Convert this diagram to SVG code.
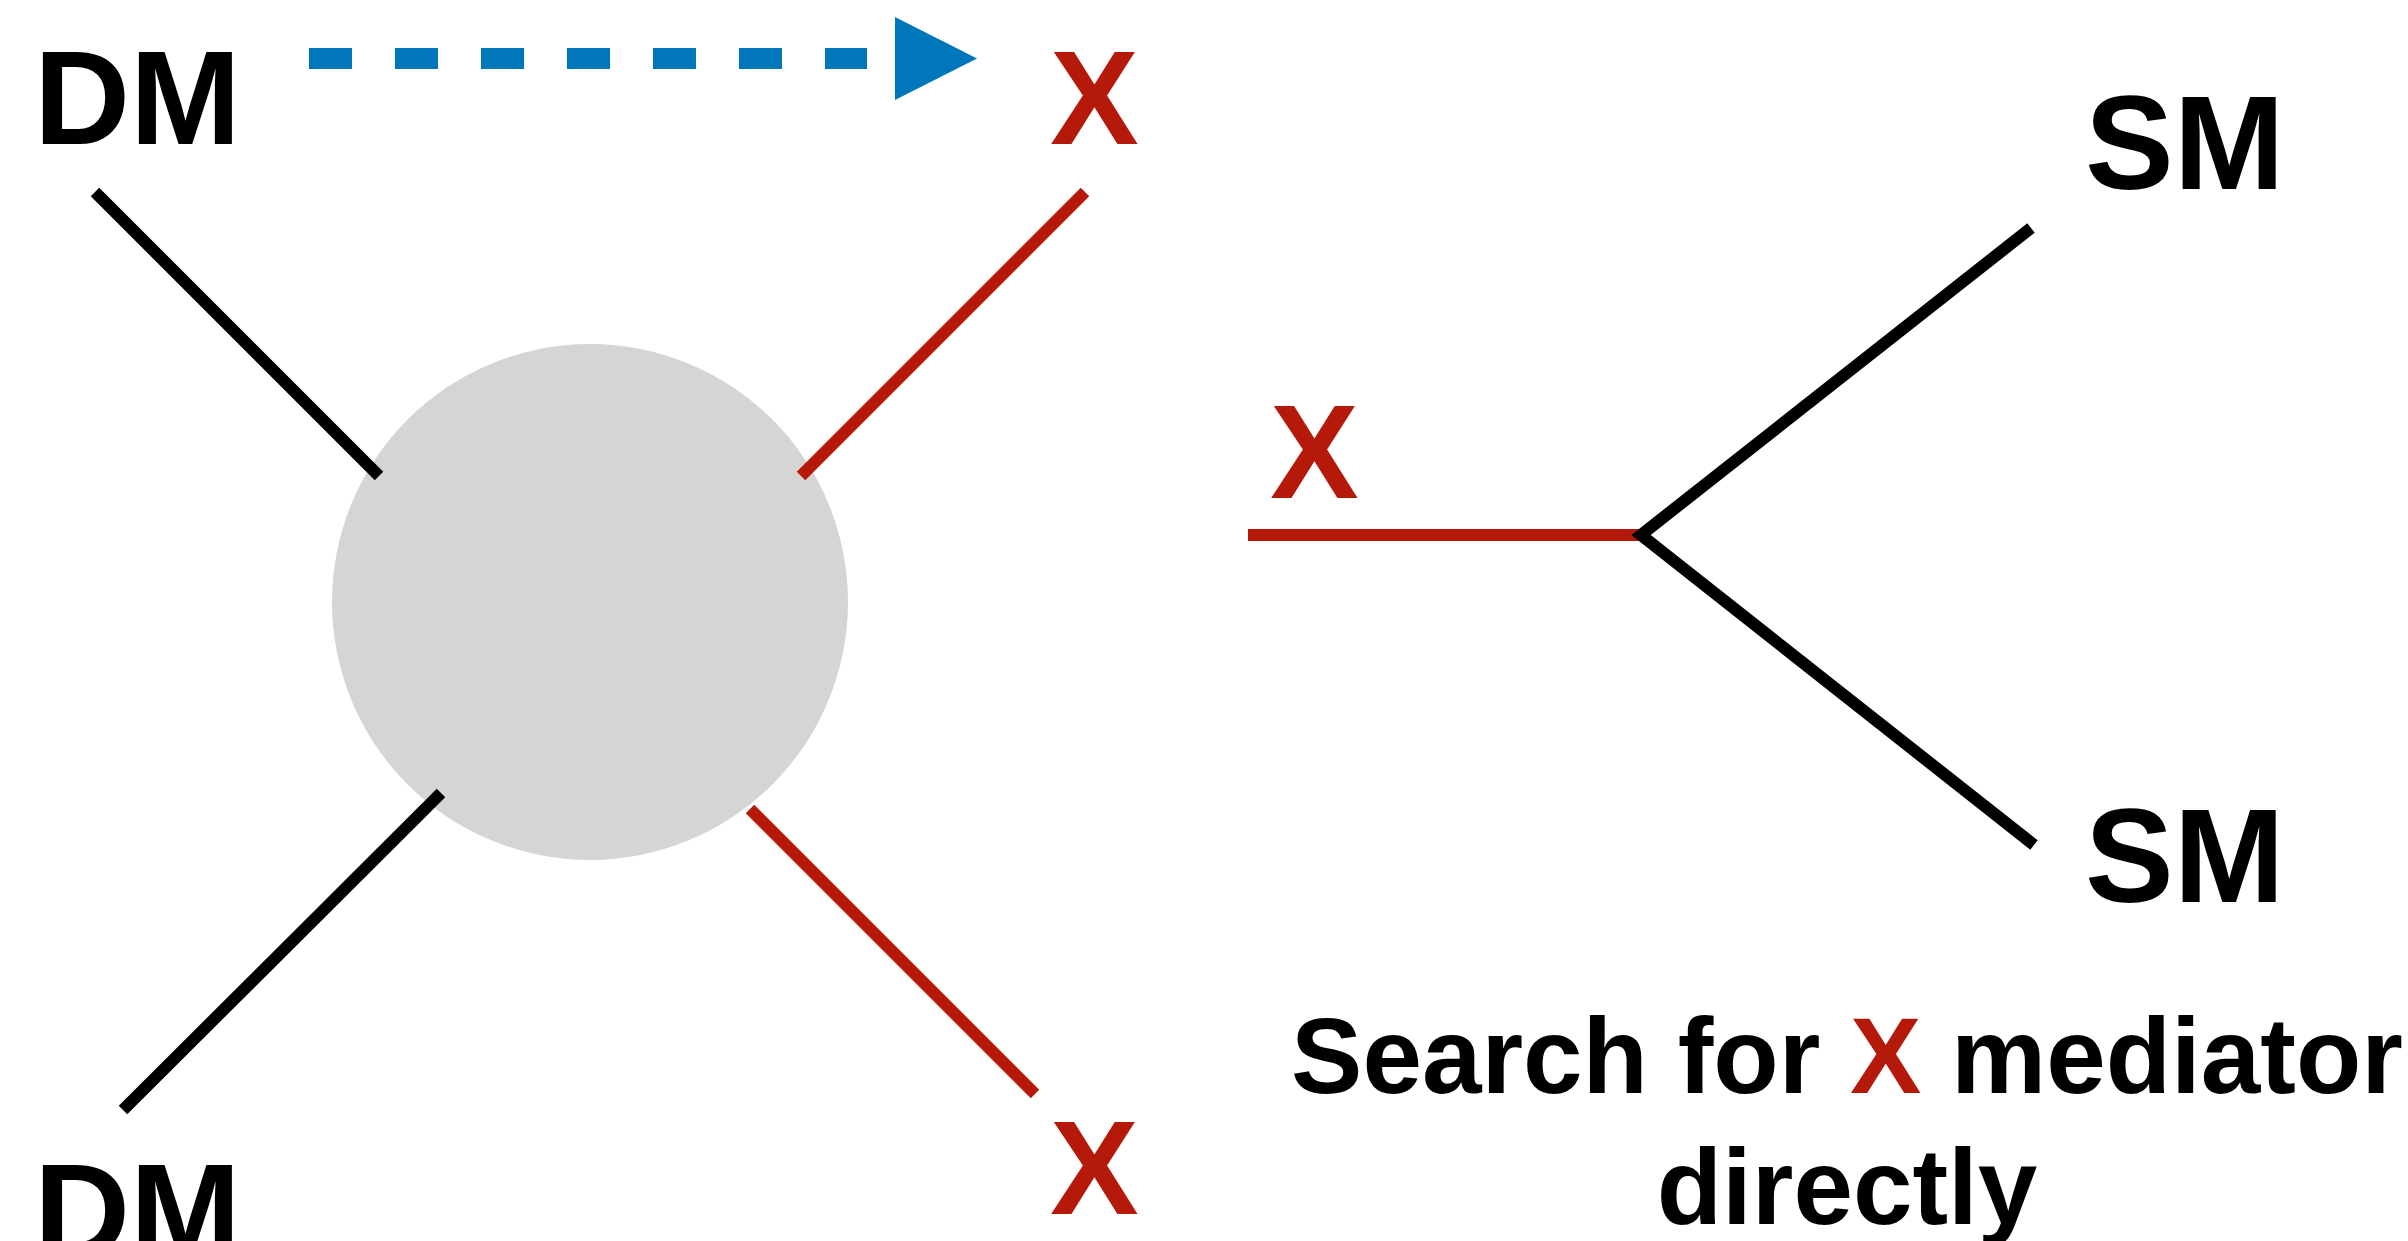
<svg xmlns="http://www.w3.org/2000/svg" width="2408" height="1241" viewBox="0 0 2408 1241">
  <style>
    .lbl { font-family: "Liberation Sans", Arial, sans-serif; font-weight: bold; }
    .big { font-size: 133px; }
    .cap { font-size: 107px; }
    .blk { fill: #000000; }
    .red { fill: #B5190A; }
    .ln { fill: none; stroke-width: 12; stroke-linecap: butt; }
    .lb { stroke: #000000; }
    .lr { stroke: #B5190A; }
  </style>
  <rect width="2408" height="1241" fill="#FFFFFF"/>
  <g id="blob">
    <circle cx="590" cy="602" r="258" fill="#D5D5D5"/>
  </g>
  <g id="connectors">
    <line class="ln lb" x1="95" y1="192" x2="379" y2="476"/>
    <line class="ln lr" x1="1085" y1="192" x2="801" y2="476"/>
    <line class="ln lb" x1="441" y1="793" x2="123" y2="1110"/>
    <line class="ln lr" x1="750" y1="809" x2="1035" y2="1094"/>
    <line class="ln lr" x1="1248" y1="535" x2="1640" y2="535"/>
    <polyline class="ln lb" stroke-linejoin="miter" points="2031,228 1641,535 2034,845"/>
    <line x1="309" y1="58.5" x2="867" y2="58.5" stroke="#0077BB" stroke-width="21" stroke-dasharray="43 43"/>
    <polygon points="895,17 977,58.5 895,100" fill="#0077BB"/>
  </g>
  <g id="dm-top"><text class="lbl big blk" x="34" y="144">DM</text></g>
  <g id="x-top"><text class="lbl big red" x="1050" y="144">X</text></g>
  <g id="dm-bottom"><text class="lbl big blk" x="34" y="1257">DM</text></g>
  <g id="x-bottom"><text class="lbl big red" x="1050" y="1214">X</text></g>
  <g id="x-mid"><text class="lbl big red" x="1270" y="498">X</text></g>
  <g id="sm-top"><text class="lbl big blk" x="2085" y="189">SM</text></g>
  <g id="sm-bottom"><text class="lbl big blk" x="2085" y="902">SM</text></g>
  <g id="caption">
    <text class="lbl cap blk" x="1847" y="1093" text-anchor="middle">Search for <tspan class="red">X</tspan> mediator</text>
    <text class="lbl cap blk" x="1847" y="1224" text-anchor="middle">directly</text>
  </g>
</svg>
